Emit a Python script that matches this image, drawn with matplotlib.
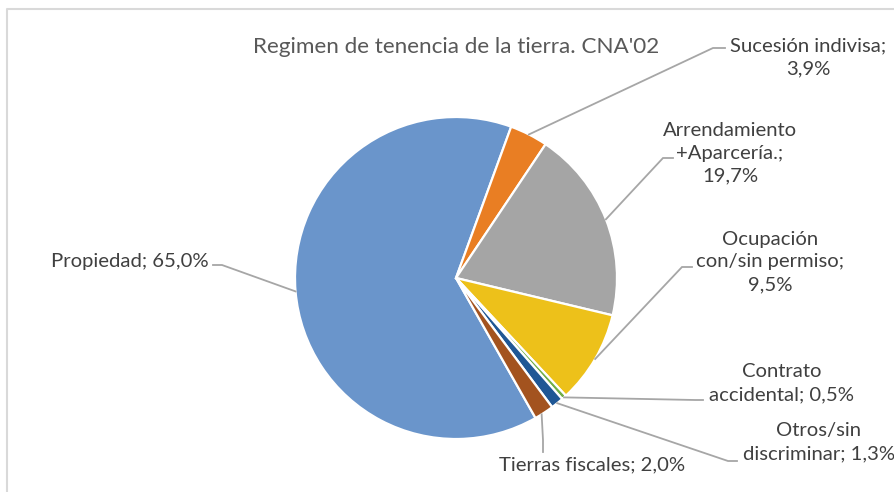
import numpy as np
import matplotlib
matplotlib.use("Agg")
import matplotlib.pyplot as plt

# ---- data ----
categories = ["Propiedad", "Sucesión indivisa", "Arrendamiento\n+Aparcería.",
              "Ocupación\ncon/sin permiso", "Contrato\naccidental", "Otros/sin\ndiscriminar",
              "Tierras fiscales"]
values = [65.0, 3.9, 19.7, 9.5, 0.5, 1.3, 2.0]
separators = [" ", "\n", "\n", "\n", " ", " ", " "]
title = "Regimen de tenencia de la tierra. CNA'02"

# ---- style / layout ----
colors = ["#6A95CB", "#E97E23", "#A5A5A5", "#EDC11A", "#70AD47", "#1F5795", "#A3531F"]
W, H = 895, 492
FONT = ["Lato", "DejaVu Sans"]

def P(x, y):
    return (x, H - y)

# label centre (pixels), elbow point, line end, anchor angle nudge
label_pos = [(130, 261), (808, 57), (730, 153), (770, 262), (782, 383), (819, 442), (592, 465)]
elbows = [(222, 265), (713, 48), (663, 158), (682, 267), (695, 400), (728, 461), (543, 440)]
ends = [(213, 265), (725, 48), (673, 158), (692, 267), (703, 400), (737, 461), (543, 452)]
nudges = [0, 0, 0, 0, 0, 0, -1]

fig = plt.figure(figsize=(W / 100, H / 100), dpi=100)
ax = fig.add_axes([0, 0, 1, 1])

cx, cy = P(456, 278)
R = 161
wedges, _ = ax.pie(values, colors=colors, startangle=-60.4, counterclock=False,
                   center=(cx, cy), radius=R,
                   wedgeprops=dict(edgecolor="white", linewidth=1.6))
ax.set_xlim(0, W)
ax.set_ylim(0, H)
ax.set_aspect("equal")
ax.axis("off")

for i, w in enumerate(wedges):
    mid = np.deg2rad((w.theta1 + w.theta2) / 2 + nudges[i])
    ax_ = cx + R * np.cos(mid)
    ay_ = cy + R * np.sin(mid)
    ex, ey = P(*elbows[i])
    fx, fy = P(*ends[i])
    ax.plot([ax_, ex, fx], [ay_, ey, fy], color="#A6A6A6", lw=1.3,
            solid_joinstyle="miter", zorder=1)
    txt = f"{categories[i]};{separators[i]}{values[i]:.1f}%".replace(".", ",")
    txt = txt.replace("Aparcería,;", "Aparcería.;")
    lx, ly = P(*label_pos[i])
    ax.text(lx, ly, txt, ha="center", va="center", fontsize=14.6, color="#404040",
            family=FONT, linespacing=1.42, clip_on=False)

tx, ty = P(456, 47)
ax.text(tx, ty, title, ha="center", va="center", fontsize=16.2, color="#595959", family=FONT)

# chart border (partially visible)
bx = [7, 7, W + 5]
by = [H + 5, 9, 9]
ax.plot(bx, [H - v for v in by], color="#D9D9D9", lw=1.5, clip_on=False)

fig.savefig("out.png", dpi=100)
